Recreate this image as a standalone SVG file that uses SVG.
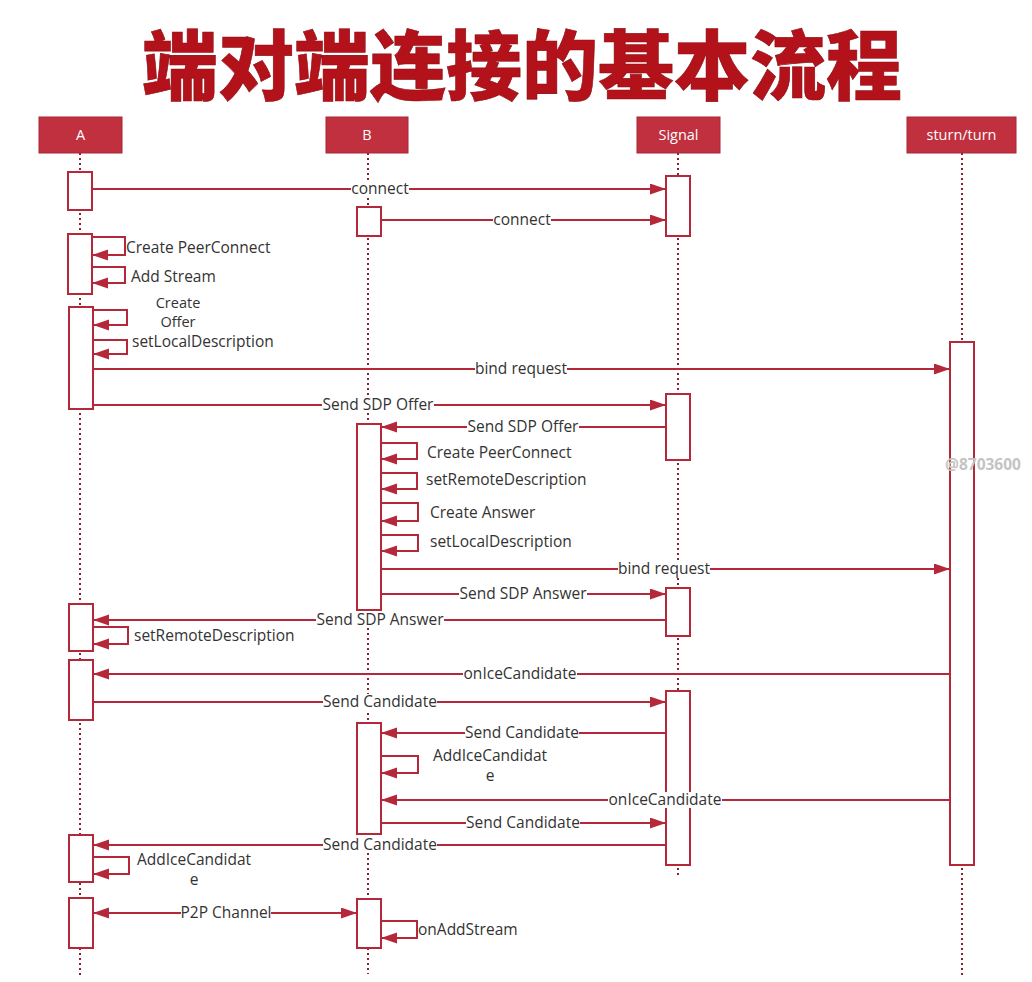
<svg xmlns="http://www.w3.org/2000/svg" width="1032" height="982" viewBox="0 0 1032 982">
<style>
.hdr{fill:#c0303e;stroke:#a82636;stroke-width:1}
.hdrt{fill:#fff;font-family:"Open Sans","Noto Sans",sans-serif;font-size:14.5px;text-anchor:middle}
.life{stroke:#8a2230;stroke-width:2;stroke-dasharray:2 3;fill:none}
.act{fill:#fff;stroke:#b5283a;stroke-width:2}
.msg{stroke:#b5283a;stroke-width:2;fill:none}
.lbl{fill:#333;font-family:"Open Sans","Noto Sans",sans-serif;font-size:15.5px}
.sm{font-size:14.5px}
.on{text-anchor:middle}
.bg{fill:#fff}
.title{fill:#b3121a;font-family:"Noto Sans CJK SC","Noto Sans CJK JP",sans-serif;font-size:76px;font-weight:900;text-anchor:middle;stroke:#8a0c12;stroke-width:0.6}
.wm{fill:#c4c4c4;font-family:"Open Sans",sans-serif;font-size:15.5px;font-weight:bold}
</style>
<defs>
<marker id="ah" markerUnits="userSpaceOnUse" markerWidth="17" markerHeight="12" refX="16" refY="5.5" orient="auto-start-reverse">
<path d="M0,0 L16,5.5 L0,11 z" fill="#b5283a"/>
</marker>
</defs>
<rect width="1032" height="982" fill="#fff"/>
<text class="title" x="522" y="94">端对端连接的基本流程</text>

<g id="lifelines">
<line class="life" x1="80" y1="153" x2="80" y2="978"/>
<line class="life" x1="368" y1="153" x2="368" y2="974"/>
<line class="life" x1="678" y1="153" x2="678" y2="878"/>
<line class="life" x1="962" y1="153" x2="962" y2="975"/>
</g>

<g id="A">
<rect class="hdr" x="39" y="117" width="83" height="36"/>
<text class="hdrt" x="80.5" y="140">A</text>
</g>
<g id="B">
<rect class="hdr" x="326" y="117" width="82" height="36"/>
<text class="hdrt" x="367" y="140">B</text>
</g>
<g id="Signal">
<rect class="hdr" x="637" y="117" width="83" height="36"/>
<text class="hdrt" x="678.5" y="140">Signal</text>
</g>
<g id="sturn">
<rect class="hdr" x="907" y="117" width="109" height="36"/>
<text class="hdrt" x="961.5" y="140">sturn/turn</text>
</g>

<g id="activations">
<rect class="act" x="68" y="172" width="24" height="38"/>
<rect class="act" x="68" y="234" width="24" height="60"/>
<rect class="act" x="69" y="307" width="24" height="102"/>
<rect class="act" x="69" y="604" width="24" height="47"/>
<rect class="act" x="69" y="660" width="24" height="60"/>
<rect class="act" x="69" y="835" width="24" height="47"/>
<rect class="act" x="69" y="898" width="24" height="50"/>
<rect class="act" x="357" y="207" width="24" height="29"/>
<rect class="act" x="357" y="424" width="24" height="186"/>
<rect class="act" x="357" y="723" width="24" height="111"/>
<rect class="act" x="357" y="899" width="24" height="49"/>
<rect class="act" x="666" y="176" width="24" height="60"/>
<rect class="act" x="666" y="394" width="24" height="66"/>
<rect class="act" x="666" y="588" width="24" height="48"/>
<rect class="act" x="666" y="691" width="24" height="174"/>
<rect class="act" x="950" y="342" width="24" height="523"/>
</g>

<g id="connectors">
<path class="msg" d="M92,189 H666" marker-end="url(#ah)"/>
<path class="msg" d="M381,220 H666" marker-end="url(#ah)"/>
<path class="msg" d="M92,237 H125 V255 H92" marker-end="url(#ah)"/>
<path class="msg" d="M92,267 H125 V283 H92" marker-end="url(#ah)"/>
<path class="msg" d="M93,310 H127 V325 H93" marker-end="url(#ah)"/>
<path class="msg" d="M93,340 H127 V354 H93" marker-end="url(#ah)"/>
<path class="msg" d="M93,369 H950" marker-end="url(#ah)"/>
<path class="msg" d="M93,405 H666" marker-end="url(#ah)"/>
<path class="msg" d="M666,427 H381" marker-end="url(#ah)"/>
<path class="msg" d="M381,443 H417 V459 H381" marker-end="url(#ah)"/>
<path class="msg" d="M381,473 H417 V489 H381" marker-end="url(#ah)"/>
<path class="msg" d="M381,503 H418 V521 H381" marker-end="url(#ah)"/>
<path class="msg" d="M381,535 H418 V551 H381" marker-end="url(#ah)"/>
<path class="msg" d="M381,569 H950" marker-end="url(#ah)"/>
<path class="msg" d="M381,594 H666" marker-end="url(#ah)"/>
<path class="msg" d="M666,620 H93" marker-end="url(#ah)"/>
<path class="msg" d="M93,627 H128 V644 H93" marker-end="url(#ah)"/>
<path class="msg" d="M950,674 H93" marker-end="url(#ah)"/>
<path class="msg" d="M93,702 H666" marker-end="url(#ah)"/>
<path class="msg" d="M666,733 H381" marker-end="url(#ah)"/>
<path class="msg" d="M381,756 H418 V773 H381" marker-end="url(#ah)"/>
<path class="msg" d="M950,800 H381" marker-end="url(#ah)"/>
<path class="msg" d="M381,823 H666" marker-end="url(#ah)"/>
<path class="msg" d="M666,845 H93" marker-end="url(#ah)"/>
<path class="msg" d="M93,857 H129 V874 H93" marker-end="url(#ah)"/>
<path class="msg" d="M93,913 H357" marker-start="url(#ah)" marker-end="url(#ah)"/>
<path class="msg" d="M381,921 H417 V938 H381" marker-end="url(#ah)"/>
</g>

<g id="labels">
<rect class="bg" x="351" y="181" width="58" height="16"/>
<rect class="bg" x="493" y="212" width="58" height="16"/>
<rect class="bg" x="475" y="361" width="92" height="16"/>
<rect class="bg" x="322" y="397" width="112" height="16"/>
<rect class="bg" x="467" y="419" width="112" height="16"/>
<rect class="bg" x="618" y="561" width="92" height="16"/>
<rect class="bg" x="459" y="586" width="128" height="16"/>
<rect class="bg" x="316" y="612" width="128" height="16"/>
<rect class="bg" x="463" y="666" width="114" height="16"/>
<rect class="bg" x="323" y="694" width="114" height="16"/>
<rect class="bg" x="465" y="725" width="114" height="16"/>
<rect class="bg" x="608" y="792" width="114" height="16"/>
<rect class="bg" x="466" y="815" width="114" height="16"/>
<rect class="bg" x="323" y="837" width="114" height="16"/>
<rect class="bg" x="181" y="905" width="90" height="16"/>
<text class="lbl on" x="380" y="194">connect</text>
<text class="lbl on" x="522" y="225">connect</text>
<text class="lbl" x="126" y="253">Create PeerConnect</text>
<text class="lbl" x="131" y="282">Add Stream</text>
<text class="lbl sm" x="178" y="308" text-anchor="middle">Create</text>
<text class="lbl sm" x="178" y="327" text-anchor="middle">Offer</text>
<text class="lbl" x="132" y="347">setLocalDescription</text>
<text class="lbl on" x="521" y="374">bind request</text>
<text class="lbl on" x="378" y="410">Send SDP Offer</text>
<text class="lbl on" x="523" y="432">Send SDP Offer</text>
<text class="lbl" x="427" y="458">Create PeerConnect</text>
<text class="lbl" x="426" y="485">setRemoteDescription</text>
<text class="lbl" x="430" y="518">Create Answer</text>
<text class="lbl" x="430" y="547">setLocalDescription</text>
<text class="lbl on" x="664" y="574">bind request</text>
<text class="lbl on" x="523" y="599">Send SDP Answer</text>
<text class="lbl on" x="380" y="625">Send SDP Answer</text>
<text class="lbl" x="134" y="641">setRemoteDescription</text>
<text class="lbl on" x="520" y="679">onIceCandidate</text>
<text class="lbl on" x="380" y="707">Send Candidate</text>
<text class="lbl on" x="522" y="738">Send Candidate</text>
<text class="lbl" x="433" y="761">AddIceCandidat</text>
<text class="lbl" x="490" y="781" text-anchor="middle">e</text>
<text class="lbl on" x="665" y="805">onIceCandidate</text>
<text class="lbl on" x="523" y="828">Send Candidate</text>
<text class="lbl on" x="380" y="850">Send Candidate</text>
<text class="lbl" x="137" y="865">AddIceCandidat</text>
<text class="lbl" x="194" y="885" text-anchor="middle">e</text>
<text class="lbl on" x="226" y="918">P2P Channel</text>
<text class="lbl" x="418" y="935">onAddStream</text>
</g>
<text class="wm" x="945" y="470">@8703600</text>
</svg>
